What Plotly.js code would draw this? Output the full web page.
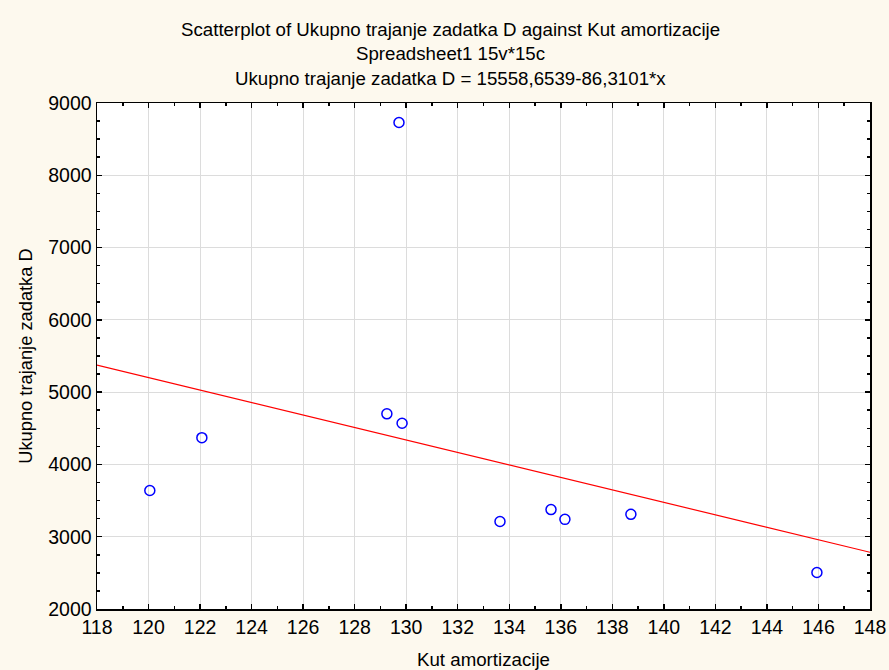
<!DOCTYPE html>
<html>
<head>
<meta charset="utf-8">
<script src="https://cdn.plot.ly/plotly-3.0.1.min.js"></script>
<style>html,body{margin:0;padding:0;background:#fdf9ee;}</style>
</head>
<body>
<div id="chart" style="width:889px;height:670px;"></div>
<script>
// Data
var kutAmortizacije = [120.05, 122.07, 129.72, 129.25, 129.84, 133.64, 135.62, 136.16, 138.72, 145.94];
var ukupnoTrajanje = [3640, 4370, 8730, 4700, 4570, 3210, 3375, 3240, 3310, 2505];
// Regression fit given in the chart title
var intercept = 15558.6539;
var slope = -86.3101;
var fitX = [118, 148];
var fitY = fitX.map(function (x) { return intercept + slope * x; });

var titleLines = [
  "Scatterplot of Ukupno trajanje zadatka D against Kut amortizacije",
  "Spreadsheet1 15v*15c",
  "Ukupno trajanje zadatka D = 15558,6539-86,3101*x"
];
var xTickVals = [118,120,122,124,126,128,130,132,134,136,138,140,142,144,146,148];
var yTickVals = [2000,3000,4000,5000,6000,7000,8000,9000];

var font = "Arial, 'Liberation Sans', sans-serif";
var titleY = [30, 54, 78];

var traces = [
  {
    x: fitX, y: fitY, type: "scatter", mode: "lines",
    line: {color: "#ff0000", width: 1.2},
    hoverinfo: "skip", showlegend: false
  },
  {
    x: kutAmortizacije, y: ukupnoTrajanje, type: "scatter", mode: "markers",
    marker: {symbol: "circle-open", size: 10, color: "#0000ff", line: {width: 1.5, color: "#0000ff"}},
    showlegend: false
  }
];

var annotations = titleLines.map(function (t, i) {
  return {
    text: t, xref: "paper", yref: "paper",
    x: (450 - 97) / 773, y: 1 + (103 - titleY[i]) / 506,
    xanchor: "center", yanchor: "middle", showarrow: false,
    font: {family: font, size: 18.7, color: "#000"}
  };
});

var layout = {
  width: 889, height: 670,
  paper_bgcolor: "#fdf9ee",
  plot_bgcolor: "#ffffff",
  margin: {l: 97, r: 19, t: 103, b: 61},
  showlegend: false,
  xaxis: {
    range: [118, 148], tickvals: xTickVals, ticktext: xTickVals.map(String),
    showgrid: true, gridcolor: "#dcdcdc", gridwidth: 1,
    zeroline: false, showline: true, linecolor: "#000", linewidth: 1.5, mirror: "allticks",
    ticks: "inside", ticklen: 5, tickcolor: "#000", tickwidth: 1.5,
    minor: {dtick: 1, ticks: "inside", ticklen: 3, tickcolor: "#000", showgrid: false},
    tickfont: {family: font, size: 19.5, color: "#000"},
    title: {text: "Kut amortizacije", font: {family: font, size: 18.7, color: "#000"}, standoff: 16}
  },
  yaxis: {
    range: [2000, 9000], tickvals: yTickVals, ticktext: yTickVals.map(String),
    showgrid: true, gridcolor: "#dcdcdc", gridwidth: 1,
    zeroline: false, showline: true, linecolor: "#000", linewidth: 1.5, mirror: "allticks",
    ticks: "inside", ticklen: 5, tickcolor: "#000", tickwidth: 1.5,
    minor: {dtick: 250, ticks: "inside", ticklen: 3, tickcolor: "#000", showgrid: false},
    tickfont: {family: font, size: 19.5, color: "#000"},
    title: {text: "Ukupno trajanje zadatka D", font: {family: font, size: 18.3, color: "#000"}, standoff: 11}
  },
  annotations: annotations
};

Plotly.newPlot("chart", traces, layout, {displayModeBar: false, staticPlot: true});
</script>
</body>
</html>
